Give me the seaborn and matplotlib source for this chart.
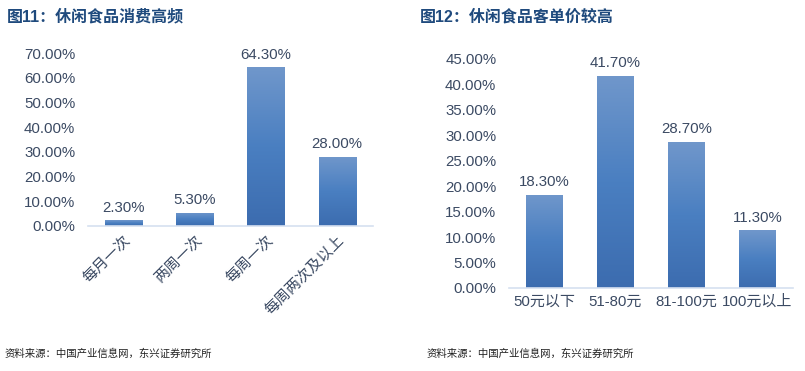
import numpy as np
import pandas as pd
import matplotlib
matplotlib.use("Agg")
import matplotlib.pyplot as plt
from matplotlib.colors import LinearSegmentedColormap
import seaborn as sns

# 数据
freq_labels = ['每月一次', '两周一次', '每周一次', '每周两次及以上']
freq_values = [2.3, 5.3, 64.3, 28.0]

price_labels = ['50元以下', '51-80元', '81-100元', '100元以上']
price_values = [18.3, 41.7, 28.7, 11.3]

title_left = '图11：休闲食品消费高频'
title_right = '图12：休闲食品客单价较高'
source = '资料来源：中国产业信息网，东兴证券研究所'

sns.set_theme(style='white')
plt.rcParams['font.family'] = ['Liberation Sans', 'Noto Sans CJK SC', 'DejaVu Sans']

TEXT_COLOR = '#3B4A63'
TITLE_COLOR = '#1F4A7D'
FS = 10.8
grad_cmap = LinearSegmentedColormap.from_list('bar', ['#3C6CAF', '#4A7FC1', '#7097CB'])


def gradient_bars(ax):
    grad = np.linspace(0, 1, 256).reshape(-1, 1)
    for p in ax.patches:
        x0, y0 = p.get_x(), p.get_y()
        w, h = p.get_width(), p.get_height()
        p.set_facecolor('none')
        p.set_edgecolor('none')
        im = ax.imshow(grad, cmap=grad_cmap, origin='lower', aspect='auto',
                       extent=(x0, x0 + w, y0, y0 + h), zorder=2)
        im.set_clip_path(p)


def draw_panel(ax, labels, values, ymax, step, rotate):
    df = pd.DataFrame({'cat': labels, 'val': values})
    sns.barplot(data=df, x='cat', y='val', ax=ax, width=0.52, color='#4A7FC1')
    gradient_bars(ax)
    ax.set_xlim(-0.5, len(labels) - 0.5)
    ax.set_ylim(0, ymax)
    ticks = np.arange(0, ymax + 0.01, step)
    ax.set_yticks(ticks)
    ax.set_yticklabels([f'{v:.2f}%' for v in ticks], fontsize=FS, color=TEXT_COLOR)
    for i, v in enumerate(values):
        ax.annotate(f'{v:.2f}%', (i, v), xytext=(0, 4), textcoords='offset points',
                    ha='center', va='bottom', fontsize=FS, color=TEXT_COLOR)
    ax.set_xlabel('')
    ax.set_ylabel('')
    if rotate:
        ax.set_xticklabels(labels, rotation=45, ha='right', rotation_mode='anchor',
                           fontsize=FS, color=TEXT_COLOR)
    else:
        ax.set_xticklabels(labels, fontsize=FS, color=TEXT_COLOR)
    for s in ['top', 'right', 'left']:
        ax.spines[s].set_visible(False)
    ax.spines['bottom'].set_color('#D6E0F0')
    ax.spines['bottom'].set_linewidth(1.2)
    ax.tick_params(axis='y', length=0, pad=9)
    ax.tick_params(axis='x', length=0, pad=5)


fig = plt.figure(figsize=(8.05, 3.71), dpi=100)
ax1 = fig.add_axes([0.109, 0.391, 0.354, 0.466])
ax2 = fig.add_axes([0.632, 0.224, 0.353, 0.617])

draw_panel(ax1, freq_labels, freq_values, 70, 10, True)
draw_panel(ax2, price_labels, price_values, 45, 5, False)

fig.text(0.008, 0.955, title_left, fontsize=11.5, fontweight='bold', color=TITLE_COLOR, va='center')
fig.text(0.522, 0.955, title_right, fontsize=11.5, fontweight='bold', color=TITLE_COLOR, va='center')
fig.text(0.006, 0.048, source, fontsize=7.5, color='#222222', va='center', style='italic')
fig.text(0.530, 0.048, source, fontsize=7.5, color='#222222', va='center', style='italic')

fig.savefig('out.png', dpi=100)
